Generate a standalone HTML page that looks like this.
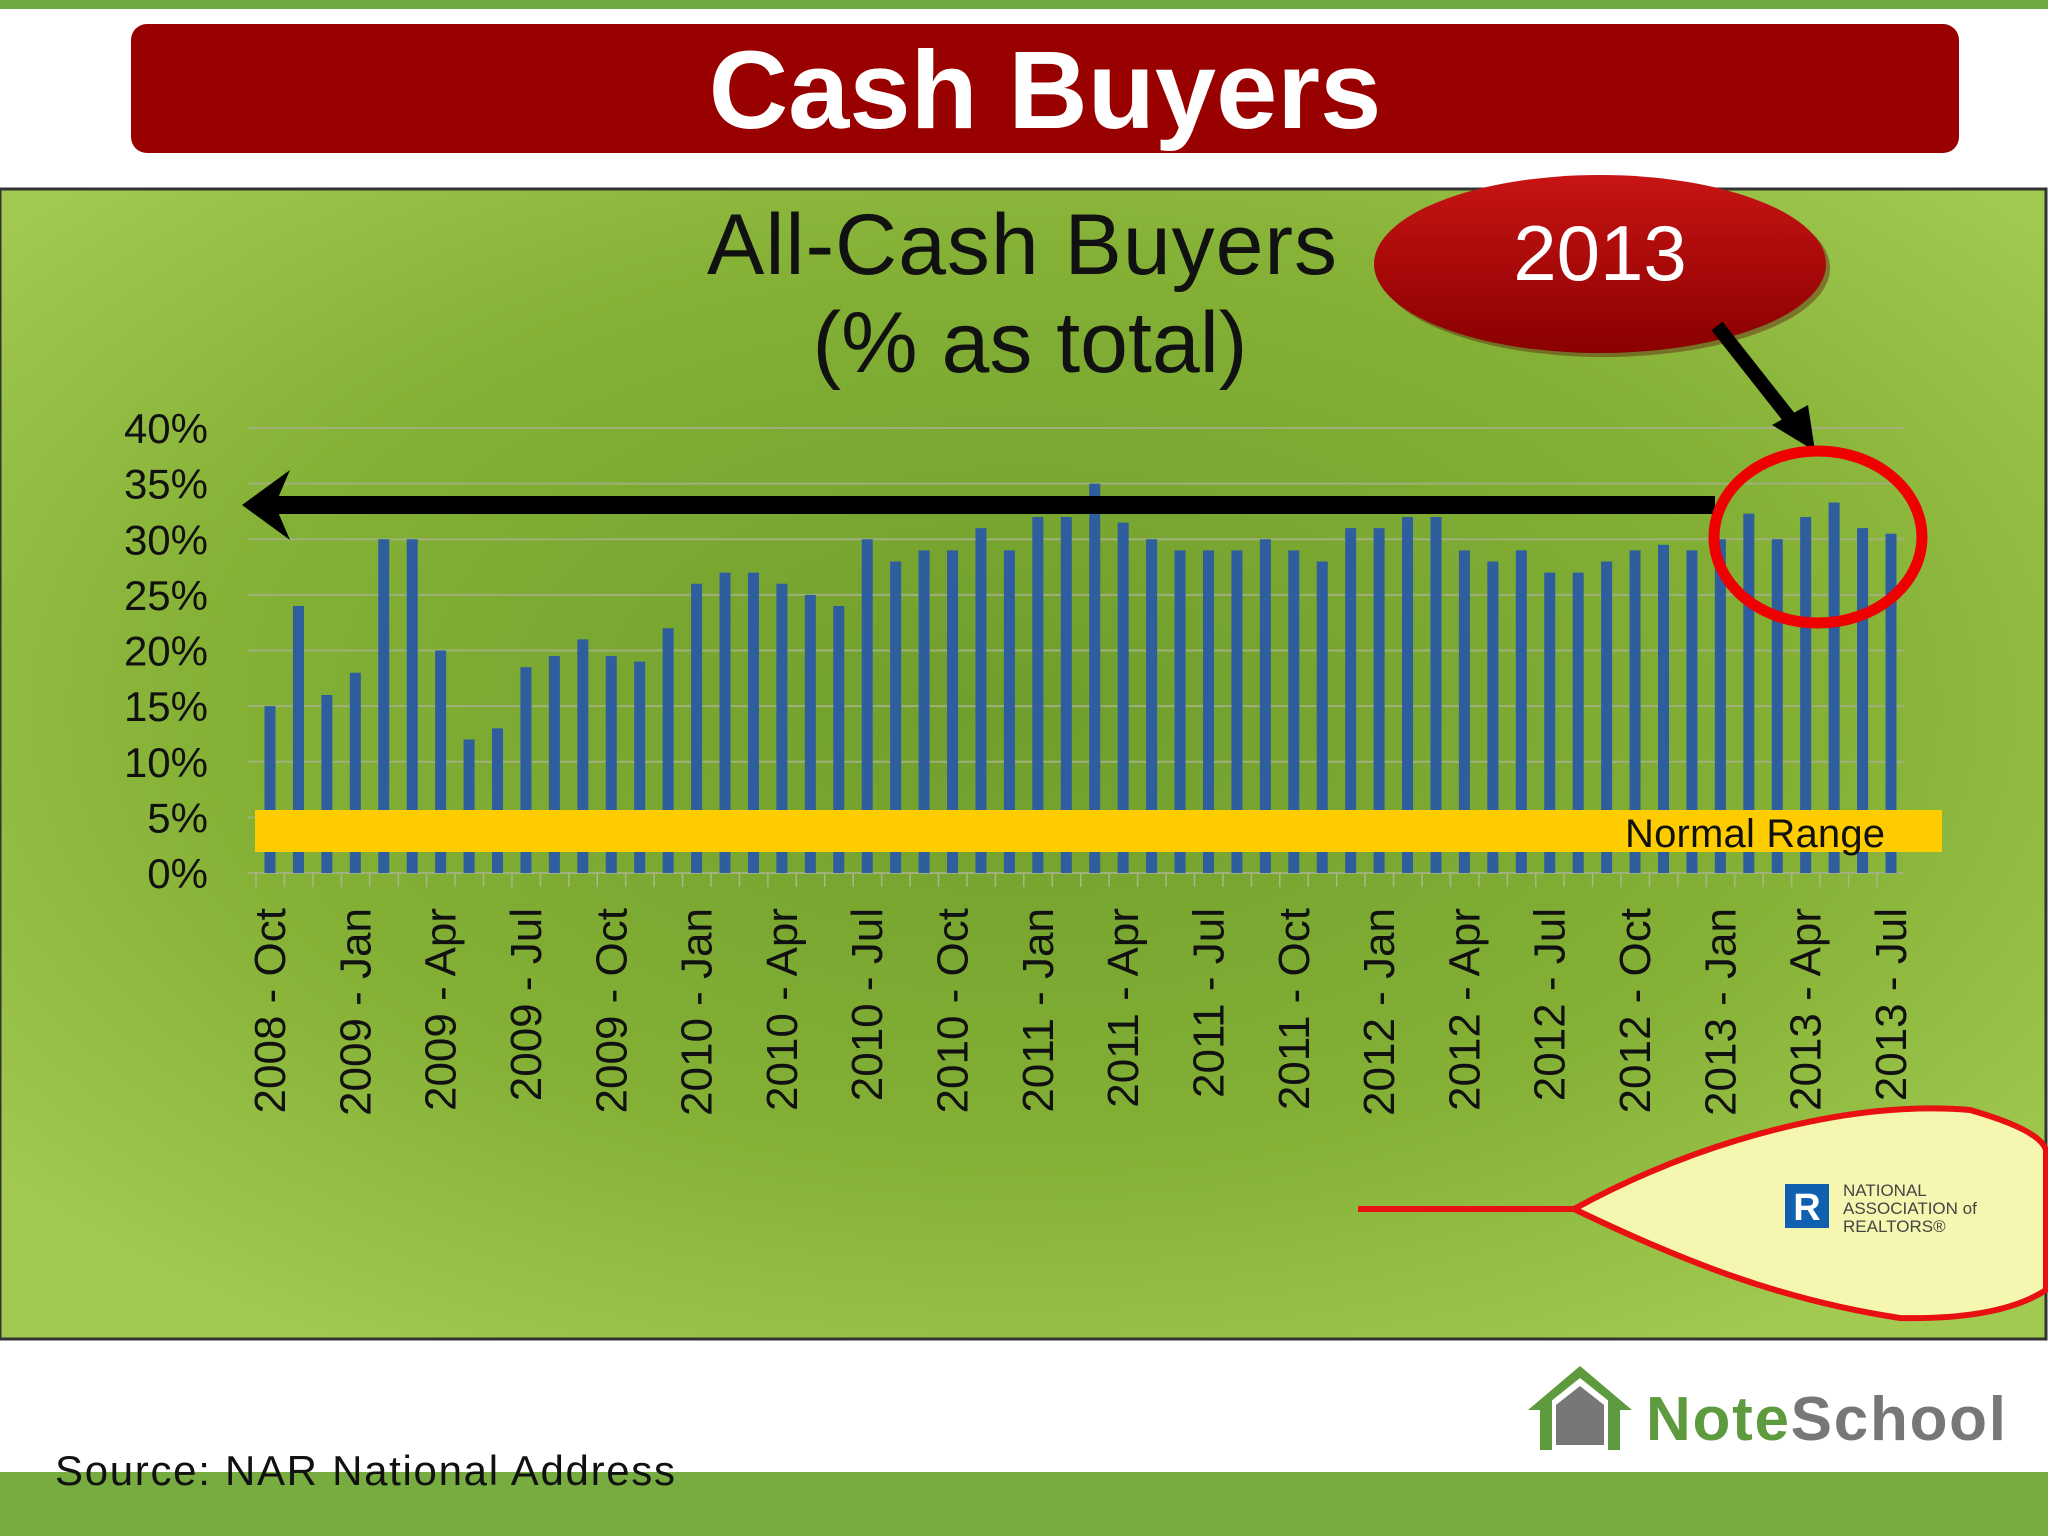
<!DOCTYPE html>
<html><head><meta charset="utf-8"><style>
html,body{margin:0;padding:0;background:#fff}
svg{display:block}
text{font-family:"Liberation Sans","DejaVu Sans",sans-serif}
</style></head><body>
<svg id="s" width="2048" height="1536" viewBox="0 0 2048 1536" xmlns="http://www.w3.org/2000/svg">
<defs>
<radialGradient id="bg" cx="0.5" cy="0.45" r="0.65">
<stop offset="0" stop-color="#6f9e2c"/><stop offset="0.6" stop-color="#84b035"/><stop offset="1" stop-color="#a2c950"/>
</radialGradient>
<linearGradient id="red" x1="0" y1="0" x2="0" y2="1"><stop offset="0" stop-color="#c81414"/><stop offset="1" stop-color="#8a0000"/></linearGradient>
</defs>
<rect x="0" y="0" width="2048" height="9" fill="#6ea840"/>
<rect x="131" y="24" width="1828" height="129" rx="16" fill="#990000"/>
<text x="1045" y="128" font-size="110" font-weight="bold" fill="#fff" text-anchor="middle">Cash Buyers</text>
<rect x="0" y="189" width="2046" height="1150" fill="url(#bg)" stroke="#333" stroke-width="3"/>
<text x="1022" y="274" font-size="86" fill="#111" text-anchor="middle" textLength="630">All-Cash Buyers</text>
<text x="1030" y="372" font-size="86" fill="#111" text-anchor="middle">(% as total)</text>
<g id="grid"></g><g id="yl"></g><g id="bars"></g><g id="xl"></g>
<rect x="255" y="810" width="1687" height="42" fill="#ffcc00"/>
<text x="1885" y="847" font-size="40" fill="#111" text-anchor="end" textLength="260">Normal Range</text>
<line x1="1715" y1="505" x2="275" y2="505" stroke="#000" stroke-width="18"/>
<polygon points="242,505 290,470 275,505 290,540" fill="#000"/>
<ellipse cx="1604" cy="268" rx="226" ry="89" fill="#5a0a0a" opacity="0.4"/>
<ellipse cx="1600" cy="264" rx="226" ry="89" fill="url(#red)"/>
<text x="1600" y="280" font-size="78" fill="#fff" text-anchor="middle">2013</text>
<line x1="1717" y1="326" x2="1795" y2="425" stroke="#000" stroke-width="14"/>
<polygon points="1815,451 1772,425 1808,405" fill="#000"/>
<ellipse cx="1818" cy="537" rx="104" ry="86" fill="none" stroke="#ee0000" stroke-width="11"/>
<path d="M1358,1209 L1574,1209 C1700,1140 1850,1100 1970,1110 Q2040,1130 2046,1150 L2046,1290 Q2000,1320 1900,1318 C1780,1300 1680,1260 1574,1209" fill="#f5f7b0" stroke="#e81010" stroke-width="6"/>
<rect x="1785" y="1184" width="44" height="44" fill="#1060b0"/>
<text x="1807" y="1220" font-size="38" font-weight="bold" fill="#fff" text-anchor="middle" font-family="Liberation Serif">R</text>
<text x="1843" y="1196" font-size="17" fill="#444" font-family="Liberation Serif">NATIONAL</text>
<text x="1843" y="1214" font-size="17" fill="#444" font-family="Liberation Serif">ASSOCIATION of</text>
<text x="1843" y="1232" font-size="17" fill="#444" font-family="Liberation Serif">REALTORS®</text>
<rect x="0" y="1472" width="2048" height="64" fill="#77ac40"/>
<text x="55" y="1485" font-size="42" fill="#111" textLength="620">Source: NAR National Address</text>
<g>
<polygon points="1528,1410 1580,1366 1632,1410 1620,1410 1580,1378 1540,1410" fill="#5e9a3e"/>
<rect x="1540" y="1400" width="12" height="50" fill="#5e9a3e"/><rect x="1608" y="1400" width="12" height="50" fill="#5e9a3e"/>
<polygon points="1556,1405 1580,1386 1604,1405 1604,1445 1556,1445" fill="#777"/>
<text x="1646" y="1440" font-size="62" font-weight="bold" fill="#5e9a3e" textLength="360">Note<tspan fill="#777">School</tspan></text>
</g>
</svg>
<script>
const categories=["2008 - Oct","2008 - Nov","2008 - Dec","2009 - Jan","2009 - Feb","2009 - Mar","2009 - Apr","2009 - May","2009 - Jun","2009 - Jul","2009 - Aug","2009 - Sep","2009 - Oct","2009 - Nov","2009 - Dec","2010 - Jan","2010 - Feb","2010 - Mar","2010 - Apr","2010 - May","2010 - Jun","2010 - Jul","2010 - Aug","2010 - Sep","2010 - Oct","2010 - Nov","2010 - Dec","2011 - Jan","2011 - Feb","2011 - Mar","2011 - Apr","2011 - May","2011 - Jun","2011 - Jul","2011 - Aug","2011 - Sep","2011 - Oct","2011 - Nov","2011 - Dec","2012 - Jan","2012 - Feb","2012 - Mar","2012 - Apr","2012 - May","2012 - Jun","2012 - Jul","2012 - Aug","2012 - Sep","2012 - Oct","2012 - Nov","2012 - Dec","2013 - Jan","2013 - Feb","2013 - Mar","2013 - Apr","2013 - May","2013 - Jun","2013 - Jul"];
const values=[15,24,16,18,30,30,20,12,13,18.5,19.5,21,19.5,19,22,26,27,27,26,25,24,30,28,29,29,31,29,32,32,35,31.5,30,29,29,29,30,29,28,31,31,32,32,29,28,29,27,27,28,29,29.5,29,30,32.3,30,32,33.3,31,30.5];
const yTicks=[0,5,10,15,20,25,30,35,40];
const NS="http://www.w3.org/2000/svg";
const x0=270,x1=1891,yb=873,yt=428;
const X=i=>x0+(x1-x0)*i/(categories.length-1);
const Y=v=>yb-(yb-yt)*v/40;
function mk(t,a,p){const e=document.createElementNS(NS,t);for(const k in a)e.setAttribute(k,a[k]);document.getElementById(p).appendChild(e);return e;}
yTicks.forEach(t=>{
 const l=mk('line',{x1:248,x2:1904,y1:Y(t),y2:Y(t),stroke:'#9fb07a','stroke-width':2},'grid');
 
 
 const tx=mk('text',{x:208,y:Y(t)+15,'font-size':42,fill:'#111','text-anchor':'end'},'yl');
 tx.textContent=t+'%';
 
 
});
values.forEach((v,i)=>{
 const b=mk('rect',{x:X(i)-5.5,y:Y(v),width:11,height:yb-Y(v),fill:'#2e5e9e'},'bars');
 
 
 const tk=mk('line',{x1:X(i)-14,x2:X(i)-14,y1:yb,y2:yb+14,stroke:'#a8b888','stroke-width':1.5},'grid');
 
 
 if(i%3===0){
  const t=mk('text',{x:0,y:0,'font-size':44,fill:'#111','text-anchor':'end',transform:`translate(${X(i)+15},908) rotate(-90)`},'xl');
  t.textContent=categories[i];
  
  
 }
});
</script>
</body></html>
